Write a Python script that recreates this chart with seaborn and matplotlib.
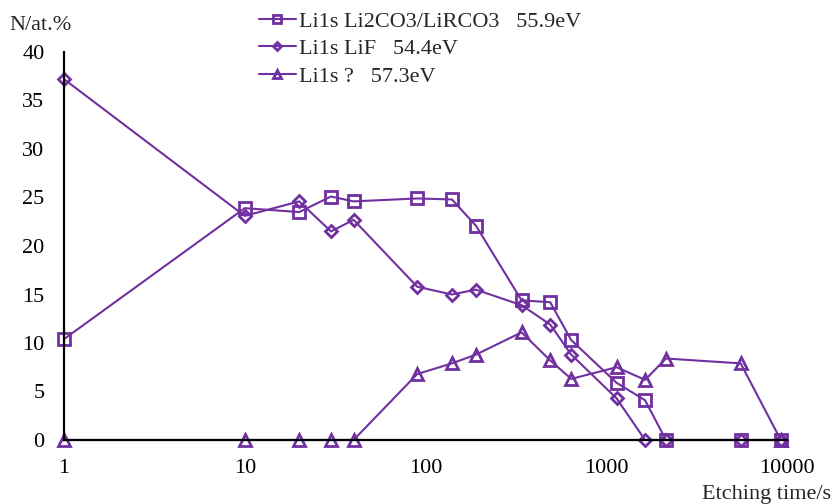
import numpy as np
import pandas as pd
import matplotlib
matplotlib.use("Agg")
import matplotlib.pyplot as plt
from matplotlib.ticker import FixedLocator, NullLocator, FixedFormatter
import seaborn as sns

# Etching times (s) and Li1s component concentrations (at.%)
times_carbonate = [1, 10, 20, 30, 40, 90, 140, 190, 340, 490, 640, 1140, 1640, 2140, 5540, 9240]
li2co3 = [10.4, 23.9, 23.5, 25.1, 24.6, 24.9, 24.8, 22.1, 14.4, 14.2, 10.3, 5.9, 4.1, 0, 0, 0]

times_fluoride = [1, 10, 20, 30, 40, 90, 140, 190, 340, 490, 640, 1140, 1640, 2140, 5540, 9240]
lif = [37.2, 23.1, 24.6, 21.5, 22.7, 15.8, 15.0, 15.5, 13.9, 11.9, 8.8, 4.3, 0, 0, 0, 0]

times_unknown = [1, 10, 20, 30, 40, 90, 140, 190, 340, 490, 640, 1140, 1640, 2140, 5540, 9240]
unknown = [0, 0, 0, 0, 0, 6.8, 7.9, 8.8, 11.1, 8.2, 6.3, 7.5, 6.2, 8.4, 7.9, 0]

series_labels = ["Li1s Li2CO3/LiRCO3   55.9eV", "Li1s LiF   54.4eV", "Li1s ?   57.3eV"]
x_ticks = [1, 10, 100, 1000, 10000]
x_tick_labels = ["1", "10", "100", "1000", "10000"]
y_ticks = [0, 5, 10, 15, 20, 25, 30, 35, 40]

sns.set_theme(style="white")
plt.rcParams["font.family"] = ["Liberation Serif", "DejaVu Serif"]
plt.rcParams["mathtext.default"] = "regular"

purple = "#7030A0"
fs = 16

fig = plt.figure(figsize=(8.33, 5.04), dpi=100)
ax = fig.add_axes([64 / 833, 1 - 440 / 504, (787 - 64) / 833, (440 - 52) / 504])

frames = [
    (times_carbonate, li2co3, "s", 8.5),
    (times_fluoride, lif, "D", 6.5),
    (times_unknown, unknown, "^", 9),
]
handles = []
for (t, v, mk, ms), lab in zip(frames, series_labels):
    df = pd.DataFrame({"t": t, "v": v})
    sns.lineplot(data=df, x="t", y="v", ax=ax, color=purple, linewidth=1.5,
                 marker=mk, markersize=ms, markerfacecolor="none",
                 markeredgecolor=purple, markeredgewidth=2.0,
                 sort=False, estimator=None, clip_on=False, legend=False)
    handles.append(ax.lines[-1])

ax.set_xscale("log")
ax.set_xlim(1, 10000)
ax.set_ylim(0, 40)
ax.xaxis.set_major_locator(FixedLocator(x_ticks))
ax.xaxis.set_major_formatter(FixedFormatter(x_tick_labels))
ax.xaxis.set_minor_locator(NullLocator())
ax.set_yticks(y_ticks)
ax.set_xlabel("")
ax.set_ylabel("")

for side in ("top", "right"):
    ax.spines[side].set_visible(False)
for side in ("left", "bottom"):
    ax.spines[side].set_color("black")
    ax.spines[side].set_linewidth(1.6)
ax.tick_params(axis="both", which="major", direction="out", length=5, width=1.6,
               color="black", labelsize=fs, labelcolor="black")
ax.tick_params(axis="y", pad=9)
ax.tick_params(axis="x", pad=9)
ax.grid(False)

fig.text(40 / 833, 1 - 26 / 504, "N/at.%", ha="center", va="center", fontsize=fs)
fig.text(831 / 833, 1 - 494 / 504, "Etching time/s", ha="right", va="center", fontsize=fs)

fig.legend(handles, series_labels, loc="upper left",
           bbox_to_anchor=(259 / 833, 1 - 11 / 504), frameon=False,
           fontsize=fs, handlelength=1.65, handletextpad=0.15, labelspacing=0.32,
           borderpad=0.0, borderaxespad=0.0, markerscale=0.65)

fig.savefig("out.png", dpi=100)
